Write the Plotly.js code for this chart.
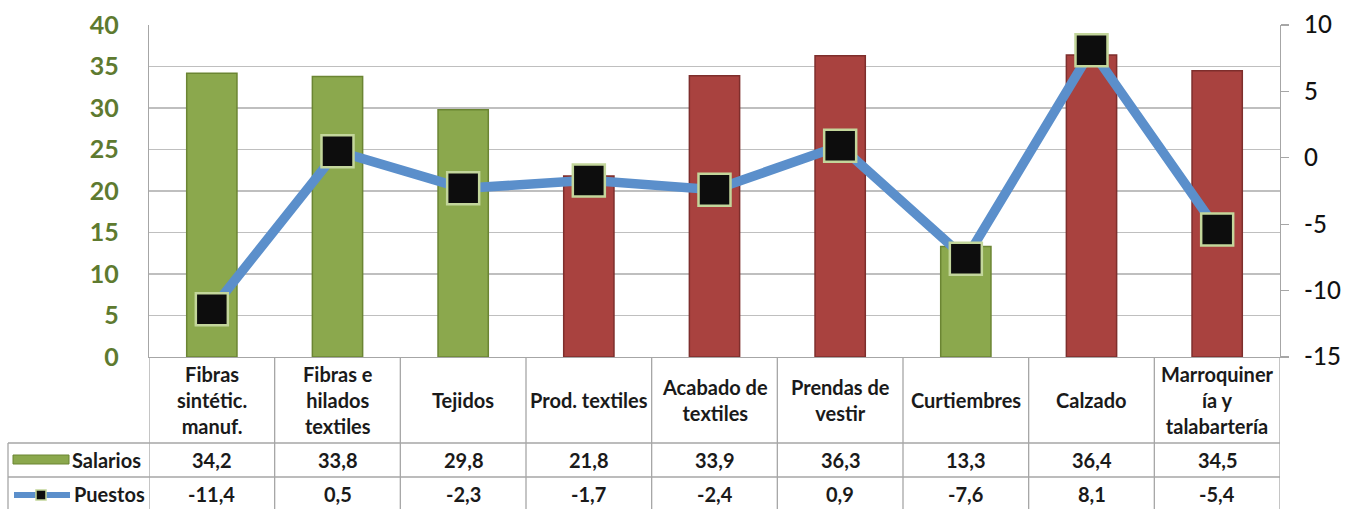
<!DOCTYPE html>
<html>
<head>
<meta charset="utf-8">
<script src="https://cdn.plot.ly/plotly-3.0.1.min.js"></script>
<style>
  html, body { margin: 0; padding: 0; background: #fff; }
  #chart { width: 1349px; height: 509px; }
</style>
</head>
<body>
<div id="chart"></div>
<script>
// ---- DATA ----
const categories = [
  "Fibras<br>sintétic.<br>manuf.",
  "Fibras e<br>hilados<br>textiles",
  "Tejidos",
  "Prod. textiles",
  "Acabado de<br>textiles",
  "Prendas de<br>vestir",
  "Curtiembres",
  "Calzado",
  "Marroquiner<br>ía y<br>talabartería"
];
const salarios = [34.2, 33.8, 29.8, 21.8, 33.9, 36.3, 13.3, 36.4, 34.5];
const puestos  = [-11.4, 0.5, -2.3, -1.7, -2.4, 0.9, -7.6, 8.1, -5.4];
const seriesNames = ["Salarios", "Puestos"];
const leftTicks  = [0, 5, 10, 15, 20, 25, 30, 35, 40];
const rightTicks = [-15, -10, -5, 0, 5, 10];

// ---- STYLE ----
const GREEN = "#8BA84D", GREEN_D = "#6B8533";
const RED = "#A9423F", RED_D = "#7E2E2C";
const barIsGreen = [true, true, true, false, false, false, true, false, false];
const barColors = barIsGreen.map(g => g ? GREEN : RED);
const barLines  = barIsGreen.map(g => g ? GREEN_D : RED_D);

const W = 1349, H = 509;
const L = 149, R = 1280, T = 25, B = 357;
const px = x => (x - L) / (R - L);
const py = y => (B - y) / (B - T);
const fmt = v => String(v).replace(".", ",");
const xs = categories.map((_, i) => i);
const FONT = "Lato, 'Open Sans', sans-serif";
const GRID = "#BFBFBF", BORDER = "#A6A6A6";

const traces = [
  {
    type: "bar", x: xs, y: salarios, name: seriesNames[0], width: 0.4,
    marker: { color: barColors, line: { color: barLines, width: 1.5 } },
    yaxis: "y", hoverinfo: "y"
  },
  {
    type: "scatter", mode: "lines+markers", x: xs, y: puestos, name: seriesNames[1],
    yaxis: "y2", cliponaxis: false,
    line: { color: "#5B8FCB", width: 9.5 },
    marker: { symbol: "square", size: 32, color: "#0D0D0D", line: { color: "#C3D69B", width: 2.5 } }
  }
];

const shapes = [];
const annotations = [];
for (let i = 0; i <= categories.length; i++) {
  shapes.push({ type: "line", xref: "x", yref: "paper", x0: i - 0.5, x1: i - 0.5,
    y0: 0, y1: py(509), line: { color: BORDER, width: 1.3 } });
}
shapes.push({ type: "line", xref: "paper", yref: "paper", x0: px(8), x1: px(8),
  y0: py(443), y1: py(509), line: { color: BORDER, width: 1.3 } });
[443, 477].forEach(yy => shapes.push({ type: "line", xref: "paper", yref: "paper",
  x0: px(8), x1: 1, y0: py(yy), y1: py(yy), line: { color: BORDER, width: 1.3 } }));
shapes.push({ type: "rect", xref: "paper", yref: "paper", x0: px(13), x1: px(69),
  y0: py(464), y1: py(455), fillcolor: GREEN, line: { color: GREEN_D, width: 1 } });
shapes.push({ type: "line", xref: "paper", yref: "paper", x0: px(14), x1: px(70),
  y0: py(495), y1: py(495), line: { color: "#5B8FCB", width: 6 } });
shapes.push({ type: "rect", xref: "paper", yref: "paper", x0: px(36), x1: px(46),
  y0: py(500), y1: py(490), fillcolor: "#0D0D0D", line: { color: "#C3D69B", width: 1.5 } });

const tf = { family: FONT, size: 20, color: "#1A1A1A" };
categories.forEach((c, i) => {
  annotations.push({ xref: "x", yref: "paper", x: i, y: py(400), text: "<b>" + c + "</b>",
    showarrow: false, xanchor: "center", yanchor: "middle", font: tf, align: "center" });
  annotations.push({ xref: "x", yref: "paper", x: i, y: py(460), text: "<b>" + fmt(salarios[i]) + "</b>",
    showarrow: false, xanchor: "center", yanchor: "middle", font: tf });
  annotations.push({ xref: "x", yref: "paper", x: i, y: py(494), text: "<b>" + fmt(puestos[i]) + "</b>",
    showarrow: false, xanchor: "center", yanchor: "middle", font: tf });
});
annotations.push({ xref: "paper", yref: "paper", x: px(70), y: py(460), text: "<b>" + seriesNames[0] + "</b>",
  showarrow: false, xanchor: "left", yanchor: "middle", font: tf });
annotations.push({ xref: "paper", yref: "paper", x: px(72), y: py(494), text: "<b>" + seriesNames[1] + "</b>",
  showarrow: false, xanchor: "left", yanchor: "middle", font: tf });

const layout = {
  width: W, height: H,
  margin: { l: L, r: W - R, t: T, b: H - B, pad: 0 },
  paper_bgcolor: "#fff", plot_bgcolor: "#fff",
  showlegend: false, bargap: 0.6,
  font: { family: FONT },
  xaxis: {
    type: "linear", range: [-0.5, categories.length - 0.5], showticklabels: false,
    showgrid: false, zeroline: false, ticks: "", showline: true, linecolor: BORDER, linewidth: 1.3,
    fixedrange: true
  },
  yaxis: {
    range: [0, 40], tickvals: leftTicks, ticktext: leftTicks.map(String),
    showgrid: true, gridcolor: GRID, gridwidth: 1.3, zeroline: false,
    showline: true, linecolor: BORDER, linewidth: 1.3, mirror: false,
    ticks: "outside", ticklen: 24, tickcolor: "rgba(0,0,0,0)",
    tickfont: { family: FONT, size: 25, color: "#5E7A30", weight: "bold" }
  },
  yaxis2: {
    range: [-15, 10], tickvals: rightTicks, ticktext: rightTicks.map(String),
    overlaying: "y", side: "right", showgrid: false, zeroline: false,
    showline: true, linecolor: BORDER, linewidth: 1.3,
    ticks: "outside", ticklen: 8, tickcolor: BORDER, tickwidth: 1.3,
    ticklabelstandoff: 10,
    tickfont: { family: FONT, size: 24, color: "#111111", weight: 500 }
  },
  shapes: shapes,
  annotations: annotations
};

Plotly.newPlot("chart", traces, layout, { displayModeBar: false, staticPlot: true });
</script>
</body>
</html>
